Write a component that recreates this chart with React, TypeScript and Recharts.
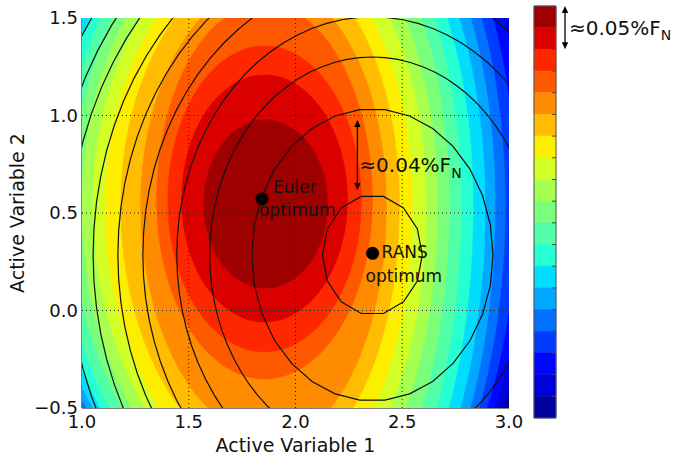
import React from 'react';
import { ComposedChart, Scatter, XAxis, YAxis } from 'recharts';

// ---------- axes ----------
const X_TICKS = [1.0, 1.5, 2.0, 2.5, 3.0];
const Y_TICKS = [-0.5, 0.0, 0.5, 1.0, 1.5];
const X_LABEL = 'Active Variable 1';
const Y_LABEL = 'Active Variable 2';

// ---------- filled contour level boundaries (Euler surrogate), innermost first ----------
// each boundary read off the picture as a bent oval with its own radius per quadrant
const BAND_COUNT = 19;
const LEVEL_CX = [1.860, 1.855, 1.855, 1.855, 1.850, 1.836, 1.832, 1.832, 1.832, 1.832, 1.832, 1.832, 1.832, 1.832, 1.832, 1.832, 1.832, 1.832];
const LEVEL_CY = [0.546, 0.567, 0.562, 0.562, 0.541, 0.541, 0.541, 0.541, 0.541, 0.541, 0.541, 0.541, 0.541, 0.541, 0.541, 0.541, 0.541, 0.541];
const LEVEL_RX_LEFT = [0.290, 0.388, 0.453, 0.505, 0.575, 0.654, 0.724, 0.780, 0.832, 0.879, 0.930, 0.981, 1.023, 1.065, 1.112, 1.159, 1.206, 1.252];
const LEVEL_RX_RIGHT = [0.290, 0.388, 0.453, 0.505, 0.575, 0.650, 0.715, 0.780, 0.832, 0.888, 0.944, 1.000, 1.056, 1.103, 1.150, 1.201, 1.252, 1.304];
const LEVEL_RY_TOP = [0.431, 0.641, 0.795, 1.010, 1.133, 1.256, 1.338, 1.446, 1.554, 1.662, 1.738, 1.790, 1.846, 1.950, 2.030, 2.100, 2.130, 2.150];
const LEVEL_RY_BOTTOM_LEFT = [0.431, 0.626, 0.774, 0.913, 1.185, 1.318, 1.426, 1.497, 1.590, 1.651, 1.718, 1.744, 1.747, 1.735, 1.712, 1.700, 1.700, 1.700];
const LEVEL_RY_BOTTOM_RIGHT = [0.431, 0.626, 0.774, 0.913, 1.220, 1.345, 1.490, 1.580, 1.700, 1.820, 1.950, 2.000, 2.050, 2.100, 2.100, 2.050, 2.000, 1.950];
const LEVEL_BEND = [0, 0, 0, 0, 0.019, 0.037, 0.047, 0.056, 0.070, 0.093, 0.103, 0.117, 0.117, 0.117, 0.117, 0.117, 0.117, 0.117];

// ---------- contour lines (RANS surrogate) ----------
const RING_CX = 2.360;
const RING_CY = 0.285;
const RING_RX = [0.234, 0.565, 0.762, 0.916, 1.075, 1.192, 1.308, 1.425, 1.509, 1.603];
const RING_RY = [0.308, 0.749, 1.015, 1.221, 1.426, 1.585, 1.738, 1.887, 2.005, 2.128];

// ---------- annotations ----------
const EULER_OPT = { x: 1.843, y: 0.572 };
const RANS_OPT = { x: 2.361, y: 0.293 };
const DELTA_ARROW = [{ x: 2.290, y: 0.977 }, { x: 2.290, y: 0.618 }];
const DELTA_TEXT = { x: 2.299, y: 0.710 };
const CB_ARROW = [{ x: 1.41, y: 19 }, { x: 1.41, y: 17 }];
const CB_TEXT = { x: 1.59, y: 17.66 };

// ---------- jet colormap ----------
const JET_R = [[0, 0], [0.35, 0], [0.66, 1], [0.89, 1], [1, 0.5]];
const JET_G = [[0, 0], [0.125, 0], [0.375, 1], [0.64, 1], [0.91, 0], [1, 0]];
const JET_B = [[0, 0.5], [0.11, 1], [0.34, 1], [0.65, 0], [1, 0]];
function seg(pts: number[][], t: number) {
  for (let i = 1; i < pts.length; i++) {
    if (t <= pts[i][0]) {
      const [x0, y0] = pts[i - 1];
      const [x1, y1] = pts[i];
      return y0 + ((t - x0) / (x1 - x0)) * (y1 - y0);
    }
  }
  return pts[pts.length - 1][1];
}
function jet(t: number) {
  const c = (v: number) => Math.round(Math.max(0, Math.min(1, v)) * 255);
  return `rgb(${c(seg(JET_R, t))},${c(seg(JET_G, t))},${c(seg(JET_B, t))})`;
}
// j = 0 is the highest band (dark red)
const bandColor = (j: number) => jet((BAND_COUNT - 1 - j + 0.5) / BAND_COUNT);

function levelOutline(k: number, n: number) {
  const pts: { x: number; y: number }[] = [];
  for (let i = 0; i <= n; i++) {
    const a = (2 * Math.PI * i) / n;
    const c = Math.cos(a);
    const s = Math.sin(a);
    const rx = c < 0 ? LEVEL_RX_LEFT[k] : LEVEL_RX_RIGHT[k];
    const ry = s > 0 ? LEVEL_RY_TOP[k] : c < 0 ? LEVEL_RY_BOTTOM_LEFT[k] : LEVEL_RY_BOTTOM_RIGHT[k];
    pts.push({ x: LEVEL_CX[k] + rx * c + LEVEL_BEND[k] * s * s, y: LEVEL_CY[k] + ry * s });
  }
  return pts;
}
function ellipse(cx: number, cy: number, rx: number, ry: number, n: number) {
  const pts: { x: number; y: number }[] = [];
  for (let i = 0; i <= n; i++) {
    const a = (2 * Math.PI * i) / n;
    pts.push({ x: cx + rx * Math.cos(a), y: cy + ry * Math.sin(a) });
  }
  return pts;
}

const noShape = () => <g />;
const polygon = (fill: string) => (props: any) => {
  const pts = props.points || [];
  const d = pts.map((p: any, i: number) => `${i ? 'L' : 'M'}${p.x},${p.y}`).join('') + 'Z';
  return <path d={d} fill={fill} stroke={fill} strokeWidth={0.6} />;
};
const doubleArrow = (props: any) => {
  const pts = props.points || [];
  if (pts.length < 2) return <g />;
  const [a, b] = pts;
  const h = 7;
  const w = 3.2;
  return (
    <g>
      <line x1={a.x} y1={a.y + h - 1} x2={b.x} y2={b.y - h + 1} stroke="#000" strokeWidth={1.3} />
      <polygon points={`${a.x},${a.y} ${a.x - w},${a.y + h} ${a.x + w},${a.y + h}`} fill="#000" />
      <polygon points={`${b.x},${b.y} ${b.x - w},${b.y - h} ${b.x + w},${b.y - h}`} fill="#000" />
    </g>
  );
};

const FONT = "'DejaVu Sans', sans-serif";

const fmtX = (v: number) => v.toFixed(1);
const fmtY = (v: number) => (v < 0 ? '\u2212' : '') + Math.abs(v).toFixed(1);

const background = [
  { x: 1, y: -0.5 }, { x: 3, y: -0.5 }, { x: 3, y: 1.5 }, { x: 1, y: 1.5 }, { x: 1, y: -0.5 },
];

function MainChart() {
  const levels = LEVEL_CX.map((_, k) => k).reverse();
  return (
    <ComposedChart width={673} height={457} margin={{ top: 18, right: 164, bottom: 19, left: 4 }}>
      <XAxis
        dataKey="x"
        type="number"
        domain={[1, 3]}
        allowDataOverflow
        ticks={X_TICKS}
        tickFormatter={fmtX}
        tickLine={false}
        tickSize={0}
        tickMargin={7}
        height={30}
        axisLine={{ stroke: '#000' }}
        tick={{ fontSize: 18, fill: '#111', fontFamily: FONT }}
        label={{
          content: (p: any) => {
            const vb = p.viewBox || { x: 82, y: 408, width: 427 };
            return (
              <text x={vb.x + vb.width / 2} y={vb.y + 44} textAnchor="middle" fontSize={19} fontFamily={FONT} fill="#111">
                {X_LABEL}
              </text>
            );
          },
        }}
      />
      <YAxis
        dataKey="y"
        type="number"
        domain={[-0.5, 1.5]}
        allowDataOverflow
        ticks={Y_TICKS}
        tickFormatter={fmtY}
        tickLine={false}
        tickSize={0}
        tickMargin={4}
        width={78}
        axisLine={{ stroke: '#000' }}
        tick={{ fontSize: 18, fill: '#111', fontFamily: FONT }}
        label={{
          content: (p: any) => {
            const vb = p.viewBox || { x: 4, y: 18, height: 390 };
            const cx = vb.x + 20;
            const cy = vb.y + vb.height / 2;
            return (
              <text transform={`translate(${cx},${cy}) rotate(-90)`} textAnchor="middle" fontSize={19} fontFamily={FONT} fill="#111">
                {Y_LABEL}
              </text>
            );
          },
        }}
      />
      <XAxis xAxisId="top" orientation="top" type="number" domain={[1, 3]} height={0} tick={false} tickLine={false} axisLine={{ stroke: '#000' }} />
      <YAxis yAxisId="right" orientation="right" type="number" domain={[-0.5, 1.5]} width={0} tick={false} tickLine={false} axisLine={{ stroke: '#000' }} />

      <Scatter data={background} line={polygon(bandColor(BAND_COUNT - 1))} lineType="joint" shape={noShape} isAnimationActive={false} />
      {levels.map((k) => (
        <Scatter
          key={`lvl${k}`}
          data={levelOutline(k, 160)}
          line={polygon(bandColor(k))}
          lineType="joint"
          shape={noShape}
          isAnimationActive={false}
        />
      ))}

      {X_TICKS.slice(1, -1).map((t) => (
        <Scatter key={`gx${t}`} data={[{ x: t, y: -0.5 }, { x: t, y: 1.5 }]} line={{ stroke: '#222', strokeWidth: 1, strokeDasharray: '1 3' }} lineType="joint" shape={noShape} isAnimationActive={false} />
      ))}
      {Y_TICKS.slice(1, -1).map((t) => (
        <Scatter key={`gy${t}`} data={[{ x: 1, y: t }, { x: 3, y: t }]} line={{ stroke: '#222', strokeWidth: 1, strokeDasharray: '1 3' }} lineType="joint" shape={noShape} isAnimationActive={false} />
      ))}

      {RING_RX.map((rx, i) => (
        <Scatter
          key={`ring${i}`}
          data={ellipse(RING_CX, RING_CY, rx, RING_RY[i], i === 0 ? 14 : i === 1 ? 30 : 80)}
          line={{ stroke: '#111', strokeWidth: 1.2 }}
          lineType="joint"
          shape={noShape}
          isAnimationActive={false}
        />
      ))}

      <Scatter data={DELTA_ARROW} line={doubleArrow} lineType="joint" shape={noShape} isAnimationActive={false} />
      <Scatter
        data={[DELTA_TEXT]}
        isAnimationActive={false}
        shape={(p: any) => (
          <text x={p.cx} y={p.cy} fontSize={20} fontFamily={FONT} fill="#111">
            <tspan>≈0.04%F</tspan>
            <tspan fontSize={14} dy={6}>N</tspan>
          </text>
        )}
      />
      <Scatter
        data={[EULER_OPT]}
        isAnimationActive={false}
        shape={(p: any) => (
          <g>
            <circle cx={p.cx} cy={p.cy} r={6.5} fill="#000" />
            <text x={p.cx + 11} y={p.cy - 6} fontSize={17} fontFamily={FONT} fill="#111">Euler</text>
            <text x={p.cx - 3} y={p.cy + 17} fontSize={17} fontFamily={FONT} fill="#111">optimum</text>
          </g>
        )}
      />
      <Scatter
        data={[RANS_OPT]}
        isAnimationActive={false}
        shape={(p: any) => (
          <g>
            <circle cx={p.cx} cy={p.cy} r={6.5} fill="#000" />
            <text x={p.cx + 9} y={p.cy + 5} fontSize={17} fontFamily={FONT} fill="#111">RANS</text>
            <text x={p.cx - 7} y={p.cy + 29} fontSize={17} fontFamily={FONT} fill="#111">optimum</text>
          </g>
        )}
      />
    </ComposedChart>
  );
}

const CB_BANDS = Array.from({ length: BAND_COUNT }, (_, j) => j);
const CB_BOUNDS = Array.from({ length: BAND_COUNT - 1 }, (_, i) => i + 1);

function ColorBar() {
  return (
    <ComposedChart width={673} height={457} margin={{ top: 6, right: 7, bottom: 39, left: 534 }}>
      <XAxis dataKey="x" type="number" domain={[0, 6]} hide />
      <YAxis dataKey="y" type="number" domain={[0, BAND_COUNT]} hide />
      {CB_BANDS.map((j) => {
        const top = BAND_COUNT - j;
        const bot = top - 1;
        return (
          <Scatter
            key={`cb${j}`}
            data={[{ x: 0, y: bot }, { x: 1, y: bot }, { x: 1, y: top }, { x: 0, y: top }, { x: 0, y: bot }]}
            line={polygon(bandColor(j))}
            lineType="joint"
            shape={noShape}
            isAnimationActive={false}
          />
        );
      })}
      {CB_BOUNDS.map((b) => (
        <Scatter key={`cbt${b}`} data={[{ x: 0.82, y: b }, { x: 1, y: b }]} line={{ stroke: '#444', strokeWidth: 1 }} lineType="joint" shape={noShape} isAnimationActive={false} />
      ))}
      <Scatter
        data={[{ x: 0, y: 0 }, { x: 1, y: 0 }, { x: 1, y: BAND_COUNT }, { x: 0, y: BAND_COUNT }, { x: 0, y: 0 }]}
        line={{ stroke: '#555', strokeWidth: 1 }}
        lineType="joint"
        shape={noShape}
        isAnimationActive={false}
      />
      <Scatter data={CB_ARROW} line={doubleArrow} lineType="joint" shape={noShape} isAnimationActive={false} />
      <Scatter
        data={[CB_TEXT]}
        isAnimationActive={false}
        shape={(p: any) => (
          <text x={p.cx} y={p.cy} fontSize={20} fontFamily={FONT} fill="#111">
            <tspan>≈0.05%F</tspan>
            <tspan fontSize={14} dy={5}>N</tspan>
          </text>
        )}
      />
    </ComposedChart>
  );
}

export default function App() {
  return (
    <div style={{ position: 'absolute', left: 0, top: 0, width: 673, height: 457, background: '#fff' }}>
      <div style={{ position: 'absolute', left: 0, top: 0 }}>
        <MainChart />
      </div>
      <div style={{ position: 'absolute', left: 0, top: 0 }}>
        <ColorBar />
      </div>
    </div>
  );
}
